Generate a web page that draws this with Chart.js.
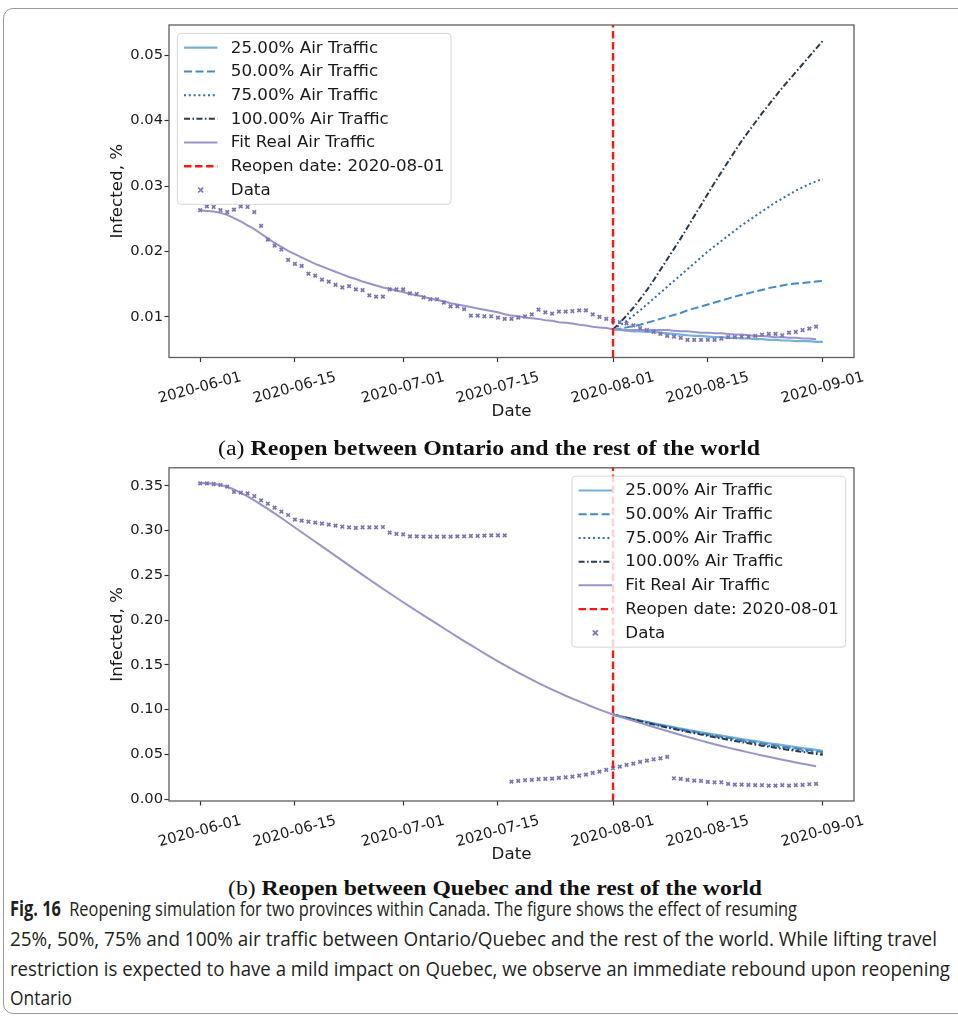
<!DOCTYPE html>
<html>
<head>
<meta charset="utf-8">
<script src="https://cdn.jsdelivr.net/npm/chart.js@4.4.1/dist/chart.umd.min.js"></script>
<style>
  html, body { margin: 0; padding: 0; background: #ffffff; }
  body { width: 958px; height: 1020px; position: relative; overflow: hidden; }
  .frame { position: absolute; left: 3px; top: 8px; width: 1000px; height: 1006px;
           border: 1.5px solid #9a9a9a; border-radius: 10px; box-sizing: border-box; }
  canvas { position: absolute; left: 0; }
  #chartA { top: 0; }
  #chartB { top: 440px; }
  .sub { position: absolute; left: 0; top: 0; white-space: nowrap; color: #111;
         font-family: "Liberation Serif", "DejaVu Serif", serif; font-size: 20px;
         transform-origin: left center; }
  .sub b { font-weight: bold; }
  .cap { position: absolute; left: 0; top: 0; white-space: nowrap; color: #231f20;
         font-family: "Open Sans", "Liberation Sans", sans-serif;
         font-size: 20.5px; transform-origin: left center; }
  .cap b { font-weight: bold; }
</style>
</head>
<body>
<div class="frame"></div>
<canvas id="chartA" width="958" height="430"></canvas>
<canvas id="chartB" width="958" height="430"></canvas>

<div class="sub" id="subA">(a) <b>Reopen between Ontario and the rest of the world</b></div>
<div class="sub" id="subB">(b) <b>Reopen between Quebec and the rest of the world</b></div>

<div class="cap" id="cap1"><b>Fig. 16</b>&ensp;Reopening simulation for two provinces within Canada. The figure shows the effect of resuming</div>
<div class="cap" id="cap2">25%, 50%, 75% and 100% air traffic between Ontario/Quebec and the rest of the world. While lifting travel</div>
<div class="cap" id="cap3">restriction is expected to have a mild impact on Quebec, we observe an immediate rebound upon reopening</div>
<div class="cap" id="cap4">Ontario</div>

<script>
// ---- Axis ticks (x values are days counted from 2020-06-01) ----
const xTickDays   = [0, 14, 30, 44, 61, 75, 92];
const xTickLabels = ['2020-06-01', '2020-06-15', '2020-07-01', '2020-07-15', '2020-08-01', '2020-08-15', '2020-09-01'];
const reopenDay = 61;            // 2020-08-01
const scenarioStartDay = 61;     // simulated scenarios start at the reopen date

const yTicksOntario  = [0.01, 0.02, 0.03, 0.04, 0.05];
const yLabelsOntario = ['0.01', '0.02', '0.03', '0.04', '0.05'];
const yTicksQuebec   = [0.00, 0.05, 0.10, 0.15, 0.20, 0.25, 0.30, 0.35];
const yLabelsQuebec  = ['0.00', '0.05', '0.10', '0.15', '0.20', '0.25', '0.30', '0.35'];

const legendLabels = ['25.00% Air Traffic', '50.00% Air Traffic', '75.00% Air Traffic',
                      '100.00% Air Traffic', 'Fit Real Air Traffic', 'Reopen date: 2020-08-01', 'Data'];

// ---- Ontario (daily, from day 0) ----
const ontarioData = [
  0.0263,0.0269,0.0268,0.0263,0.0260,0.0264,0.0269,0.0268,0.0260,0.0239,
  0.0218,0.0209,0.0203,0.0187,0.0181,0.0178,0.0166,0.0163,0.0157,0.0154,
  0.0149,0.0145,0.0147,0.0142,0.0141,0.0133,0.0131,0.0131,0.0142,0.0142,
  0.0142,0.0136,0.0135,0.0130,0.0127,0.0127,0.0122,0.0116,0.0116,0.0112,
  0.0102,0.0102,0.0101,0.0101,0.0099,0.0097,0.0097,0.0099,0.0101,0.0104,
  0.0111,0.0107,0.0105,0.0108,0.0108,0.0109,0.0110,0.0110,0.0104,0.0100,
  0.0097,0.0094,0.0092,0.0090,0.0087,0.0083,0.0080,0.0077,0.0074,0.0071,
  0.0070,0.0068,0.0065,0.0065,0.0065,0.0065,0.0065,0.0067,0.0069,0.0069,
  0.0070,0.0070,0.0071,0.0073,0.0074,0.0074,0.0072,0.0076,0.0077,0.0080,
  0.0082,0.0085];
const ontarioFit = [
  0.0263,0.0262,0.0261,0.0259,0.0256,0.0251,0.0246,0.0240,0.0234,0.0227,
  0.0220,0.0213,0.0207,0.0201,0.0196,0.0191,0.0186,0.0181,0.0177,0.0173,
  0.0169,0.0165,0.0161,0.0158,0.0154,0.0151,0.0148,0.0145,0.0143,0.0140,
  0.0138,0.0135,0.0133,0.0131,0.0128,0.0126,0.0124,0.0121,0.0119,0.0117,
  0.0115,0.0113,0.0111,0.0109,0.0107,0.0104,0.0102,0.0101,0.0099,0.0098,
  0.0097,0.0095,0.0094,0.0092,0.0091,0.0090,0.0088,0.0087,0.0085,0.0084,
  0.0083,0.0081,0.0081,0.0080,0.0080,0.0080,0.0080,0.0080,0.0080,0.0080,
  0.0079,0.0078,0.0078,0.0077,0.0076,0.0076,0.0075,0.0075,0.0074,0.0073,
  0.0073,0.0072,0.0071,0.0071,0.0070,0.0069,0.0069,0.0068,0.0068,0.0067,
  0.0067,0.0066];
// scenarios, daily from scenarioStartDay
const ontario25 = [0.0081,0.0080,0.0079,0.0078,0.0078,0.0077,0.0077,0.0076,0.0075,0.0074,0.0073,0.0072,0.0071,0.0071,0.0070,0.0069,
                   0.0069,0.0068,0.0068,0.0067,0.0067,0.0066,0.0066,0.0065,0.0065,0.0064,0.0064,0.0063,0.0063,0.0063,0.0062,0.0062];
const ontario50 = [0.0081,0.0082,0.0084,0.0086,0.0088,0.0091,0.0094,0.0097,0.0100,0.0103,0.0106,0.0110,0.0113,0.0116,0.0119,0.0122,
                   0.0125,0.0128,0.0131,0.0134,0.0136,0.0139,0.0141,0.0144,0.0146,0.0148,0.0150,0.0151,0.0152,0.0153,0.0154,0.0155];
const ontario75 = [0.0081,0.0087,0.0094,0.0102,0.0110,0.0119,0.0128,0.0137,0.0146,0.0155,0.0164,0.0173,0.0182,0.0191,0.0200,0.0208,
                   0.0216,0.0224,0.0232,0.0240,0.0247,0.0254,0.0261,0.0268,0.0275,0.0281,0.0287,0.0293,0.0298,0.0303,0.0307,0.0311];
const ontario100 = [0.0081,0.0091,0.0102,0.0114,0.0127,0.0141,0.0156,0.0172,0.0188,0.0204,0.0220,0.0237,0.0254,0.0271,0.0288,0.0305,
                    0.0321,0.0337,0.0353,0.0369,0.0383,0.0397,0.0411,0.0424,0.0437,0.0450,0.0462,0.0474,0.0486,0.0498,0.0510,0.0522];

// ---- Quebec (daily, from day 0) ----
const quebecData = [
  0.3527,0.3527,0.3519,0.3508,0.3489,0.3430,0.3422,0.3415,0.3385,0.3337,
  0.3299,0.3255,0.3210,0.3173,0.3121,0.3110,0.3098,0.3087,0.3076,0.3065,
  0.3054,0.3042,0.3036,0.3028,0.3036,0.3036,0.3036,0.3039,0.2976,0.2961,
  0.2958,0.2935,0.2935,0.2932,0.2932,0.2932,0.2932,0.2932,0.2935,0.2935,
  0.2939,0.2939,0.2942,0.2946,0.2946,0.2946,
  0.0197,0.0204,0.0212,0.0216,0.0223,0.0227,0.0230,0.0238,0.0245,0.0253,
  0.0264,0.0275,0.0293,0.0308,0.0327,0.0346,0.0364,0.0383,0.0398,0.0417,
  0.0431,0.0446,0.0457,0.0472,
  0.0234,0.0227,0.0216,0.0208,0.0204,0.0193,0.0189,0.0189,0.0171,0.0163,
  0.0163,0.0160,0.0156,0.0156,0.0152,0.0152,0.0156,0.0152,0.0156,0.0160,
  0.0167,0.0171];
const quebecFit = [
  0.3530,0.3528,0.3521,0.3508,0.3488,0.3458,0.3420,0.3380,0.3336,0.3290,
  0.3242,0.3191,0.3139,0.3087,0.3034,0.2981,0.2928,0.2875,0.2822,0.2769,
  0.2716,0.2663,0.2610,0.2557,0.2505,0.2453,0.2401,0.2350,0.2299,0.2249,
  0.2199,0.2150,0.2101,0.2053,0.2005,0.1957,0.1909,0.1861,0.1813,0.1766,
  0.1720,0.1674,0.1629,0.1584,0.1540,0.1497,0.1455,0.1414,0.1374,0.1335,
  0.1297,0.1260,0.1224,0.1189,0.1155,0.1123,0.1092,0.1062,0.1030,0.1000,
  0.0972,0.0945,0.0921,0.0898,0.0875,0.0852,0.0829,0.0806,0.0783,0.0761,
  0.0739,0.0717,0.0696,0.0675,0.0654,0.0634,0.0614,0.0595,0.0576,0.0558,
  0.0540,0.0523,0.0506,0.0489,0.0473,0.0457,0.0441,0.0426,0.0411,0.0396,
  0.0382,0.0368];
const quebec25 = [0.0945,0.0928,0.0911,0.0895,0.0879,0.0863,0.0848,0.0833,0.0818,0.0803,0.0789,0.0775,0.0761,0.0748,0.0735,0.0722,
                  0.0709,0.0696,0.0684,0.0672,0.0660,0.0648,0.0637,0.0625,0.0614,0.0603,0.0592,0.0582,0.0571,0.0561,0.0551,0.0541];
const quebec50 = [0.0945,0.0927,0.0909,0.0892,0.0875,0.0859,0.0843,0.0827,0.0812,0.0797,0.0782,0.0767,0.0753,0.0739,0.0725,0.0711,
                  0.0698,0.0685,0.0672,0.0659,0.0647,0.0635,0.0623,0.0611,0.0600,0.0589,0.0578,0.0567,0.0556,0.0546,0.0536,0.0526];
const quebec75 = [0.0945,0.0926,0.0908,0.0890,0.0873,0.0856,0.0839,0.0822,0.0806,0.0790,0.0775,0.0760,0.0745,0.0730,0.0716,0.0702,
                  0.0688,0.0674,0.0661,0.0648,0.0635,0.0622,0.0610,0.0598,0.0586,0.0575,0.0564,0.0553,0.0542,0.0531,0.0521,0.0511];
const quebec100 = [0.0945,0.0926,0.0907,0.0888,0.0870,0.0852,0.0834,0.0817,0.0800,0.0784,0.0768,0.0752,0.0737,0.0722,0.0707,0.0692,
                   0.0678,0.0664,0.0650,0.0637,0.0624,0.0611,0.0598,0.0586,0.0574,0.0562,0.0550,0.0539,0.0528,0.0517,0.0506,0.0496];

// ---- Styling ----
const COLORS = {
  s25: '#78afd8', s50: '#3f8cc6', s75: '#2f6fa6', s100: '#2a3a4d',
  fit: '#9894cc', data: '#7b74ba', reopen: '#ff1414',
  text: '#1a1a1a', spine: '#5e5e5e', tick: '#333333'
};
const DASH = { s50: [8, 3.5], s75: [2, 2.8], s100: [6, 2.4, 1.6, 2.4], reopen: [7.5, 3.5] };
const FONT = '"DejaVu Sans", "Liberation Sans", sans-serif';
const TICK_SIZE = 14.7, LABEL_SIZE = 16.7;
const PLOT_LEFT = 169, PLOT_RIGHT = 854;
const X_MIN = -4.6, X_MAX = 96.6;

Chart.defaults.font.family = FONT;
Chart.defaults.color = COLORS.text;

const xy = (start, values) => values.map((v, i) => ({ x: start + i, y: v }));

// axes box (all four spines) and an in-axes legend
const axesFrame = {
  id: 'axesFrame',
  afterDatasetsDraw(chart, args, opts) {
    const { ctx, chartArea: ca } = chart;
    ctx.save();
    ctx.strokeStyle = COLORS.spine;
    ctx.lineWidth = 1.3;
    ctx.setLineDash([]);
    ctx.strokeRect(ca.left, ca.top, ca.right - ca.left, ca.bottom - ca.top);

    const fs = LABEL_SIZE, pad = 0.4 * fs, textH = 0.92 * fs, gap = 0.5 * fs;
    const handleLen = 2 * fs, handlePad = 0.8 * fs, axPad = 0.5 * fs;
    ctx.font = `${fs}px ${FONT}`;
    const items = legendLabels.map(l => chart.data.datasets.find(d => d.label === l));
    const maxW = Math.max(...legendLabels.map(l => ctx.measureText(l).width));
    const w = 2 * pad + handleLen + handlePad + maxW;
    const h = 2 * pad + items.length * textH + (items.length - 1) * gap;
    const bx = opts.loc === 'upper left' ? ca.left + axPad : ca.right - axPad - w;
    const by = ca.top + axPad;

    ctx.beginPath();
    ctx.roundRect(bx, by, w, h, 3.5);
    ctx.fillStyle = 'rgba(255,255,255,0.8)';
    ctx.fill();
    ctx.strokeStyle = '#d6d6d6';
    ctx.lineWidth = 1;
    ctx.stroke();

    items.forEach((ds, i) => {
      const cy = by + pad + textH / 2 + i * (textH + gap);
      const hx = bx + pad;
      if (ds.showLine === false) {
        const cx = hx + handleLen / 2, r = ds.pointRadius;
        ctx.setLineDash([]);
        ctx.strokeStyle = ds.pointBorderColor;
        ctx.lineWidth = ds.pointBorderWidth;
        ctx.beginPath();
        ctx.moveTo(cx - r, cy - r); ctx.lineTo(cx + r, cy + r);
        ctx.moveTo(cx - r, cy + r); ctx.lineTo(cx + r, cy - r);
        ctx.stroke();
      } else {
        ctx.setLineDash(ds.borderDash || []);
        ctx.strokeStyle = ds.borderColor;
        ctx.lineWidth = ds.borderWidth;
        ctx.beginPath();
        ctx.moveTo(hx, cy); ctx.lineTo(hx + handleLen, cy);
        ctx.stroke();
      }
      ctx.setLineDash([]);
      ctx.fillStyle = COLORS.text;
      ctx.textBaseline = 'middle';
      ctx.textAlign = 'left';
      ctx.fillText(ds.label, hx + handleLen + handlePad, cy + 0.5);
    });
    ctx.restore();
  }
};

function makeChart(id, s) {
  const canvas = document.getElementById(id);
  const H = canvas.height;
  const line = (label, data, color, width, dash, order) => ({
    label, data, borderColor: color, backgroundColor: color, borderWidth: width,
    borderDash: dash || [], pointRadius: 0, pointHoverRadius: 0, tension: 0, fill: false, order
  });
  return new Chart(canvas, {
    type: 'line',
    data: {
      datasets: [
        line('Reopen date: 2020-08-01', [{ x: reopenDay, y: s.yMin }, { x: reopenDay, y: s.yMax }],
             COLORS.reopen, 2.4, DASH.reopen, 0),
        { label: 'Data', data: xy(0, s.data), showLine: false, pointStyle: 'crossRot',
          pointRadius: 2.5, pointBorderWidth: 1.7, pointBorderColor: COLORS.data,
          pointBackgroundColor: COLORS.data, borderColor: COLORS.data, order: 1 },
        line('Fit Real Air Traffic', xy(0, s.fit), COLORS.fit, 2, null, 2),
        line('100.00% Air Traffic', xy(scenarioStartDay, s.s100), COLORS.s100, 2, DASH.s100, 3),
        line('75.00% Air Traffic', xy(scenarioStartDay, s.s75), COLORS.s75, 2, DASH.s75, 4),
        line('50.00% Air Traffic', xy(scenarioStartDay, s.s50), COLORS.s50, 2, DASH.s50, 5),
        line('25.00% Air Traffic', xy(scenarioStartDay, s.s25), COLORS.s25, 2.2, null, 6)
      ]
    },
    options: {
      responsive: false, animation: false, devicePixelRatio: 1,
      layout: { padding: { top: s.plotTop, right: 958 - PLOT_RIGHT, left: 0, bottom: 0 } },
      plugins: { legend: { display: false }, tooltip: { enabled: false }, axesFrame: { loc: s.legendLoc } },
      scales: {
        x: {
          type: 'linear', min: X_MIN, max: X_MAX,
          afterBuildTicks: sc => { sc.ticks = xTickDays.map(v => ({ value: v })); },
          afterFit: sc => { sc.height = H - s.plotBottom; },
          ticks: { autoSkip: false, minRotation: 15, maxRotation: 15, labelOffset: 41,
                   padding: 6.5, font: { size: TICK_SIZE }, color: COLORS.text,
                   callback: (v, i) => xTickLabels[i] },
          grid: { drawOnChartArea: false, drawTicks: true, tickLength: 4.5, tickColor: COLORS.tick, tickWidth: 1.2 },
          border: { display: false },
          title: { display: true, text: 'Date', font: { size: LABEL_SIZE }, color: COLORS.text,
                   padding: { top: 0, bottom: s.datePad } }
        },
        y: {
          type: 'linear', min: s.yMin, max: s.yMax,
          afterBuildTicks: sc => { sc.ticks = s.yTicks.map(v => ({ value: v })); },
          afterFit: sc => { sc.width = PLOT_LEFT; },
          ticks: { padding: 1.5, font: { size: TICK_SIZE }, color: COLORS.text,
                   callback: (v, i) => s.yLabels[i] },
          grid: { drawOnChartArea: false, drawTicks: true, tickLength: 4.5, tickColor: COLORS.tick, tickWidth: 1.2 },
          border: { display: false },
          title: { display: true, text: 'Infected, %', font: { size: LABEL_SIZE }, color: COLORS.text,
                   padding: { top: 108, bottom: 0 } }
        }
      }
    },
    plugins: [axesFrame]
  });
}

makeChart('chartA', {
  data: ontarioData, fit: ontarioFit, s25: ontario25, s50: ontario50, s75: ontario75, s100: ontario100,
  yMin: 0.0038, yMax: 0.0546, yTicks: yTicksOntario, yLabels: yLabelsOntario,
  plotTop: 25, plotBottom: 357.5, datePad: 8, legendLoc: 'upper left'
});
makeChart('chartB', {
  data: quebecData, fit: quebecFit, s25: quebec25, s50: quebec50, s75: quebec75, s100: quebec100,
  yMin: -0.002, yMax: 0.370, yTicks: yTicksQuebec, yLabels: yLabelsQuebec,
  plotTop: 27.8, plotBottom: 361, datePad: 5, legendLoc: 'upper right'
});

// text placement: each line spans [x0, x1], centred vertically on yc
function place(el, x0, x1, yc) {
  const r = el.getBoundingClientRect();
  el.style.left = x0 + 'px';
  el.style.top = (yc - r.height / 2) + 'px';
  el.style.transform = `scaleX(${(x1 - x0) / r.width})`;
}
function layoutText() {
  place(document.getElementById('subA'), 218, 760, 448);
  place(document.getElementById('subB'), 228, 762, 888);
  place(document.getElementById('cap1'), 10, 797, 908);
  place(document.getElementById('cap2'), 10, 937, 938);
  place(document.getElementById('cap3'), 10, 950, 968);
  place(document.getElementById('cap4'), 10, 72, 997);
}
(document.fonts && document.fonts.ready ? document.fonts.ready : Promise.resolve()).then(layoutText);
</script>
</body>
</html>
